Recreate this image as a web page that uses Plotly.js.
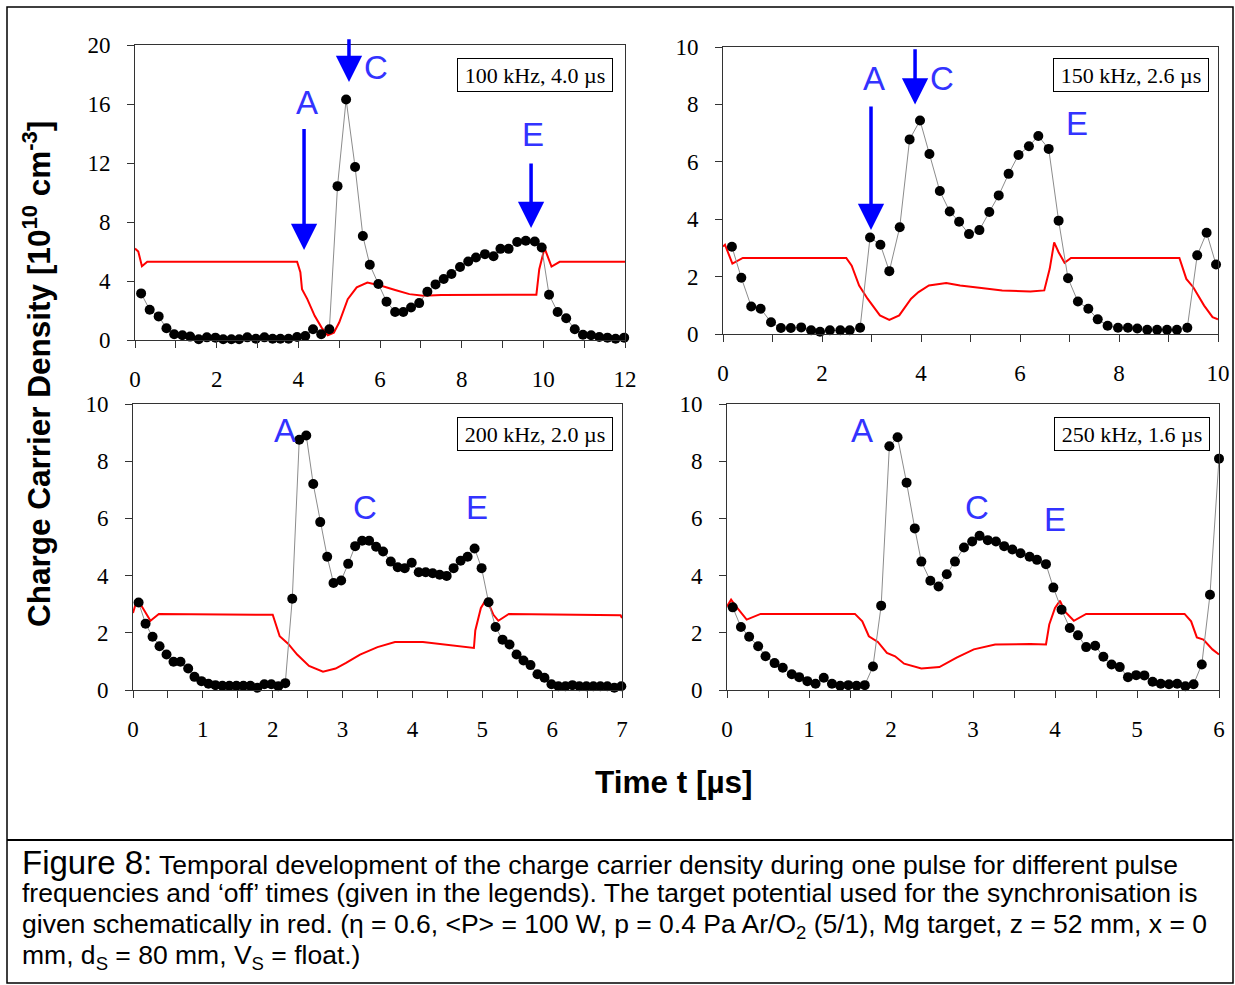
<!DOCTYPE html>
<html><head><meta charset="utf-8">
<script src="https://cdn.plot.ly/plotly-3.0.1.min.js"></script>
<style>body{margin:0;background:#fff}#chart{width:1235px;height:985px}</style>
</head><body><div id="chart"></div>
<script>
// ---------- DATA ----------
// Panel 1: 100 kHz, 4.0 µs
const t100 = [0.15,0.36,0.58,0.77,0.96,1.16,1.35,1.56,1.76,1.97,2.16,2.36,2.55,2.75,2.96,3.17,3.37,3.56,3.76,3.97,4.17,4.36,4.56,4.76,4.96,5.17,5.39,5.58,5.75,5.96,6.16,6.37,6.57,6.76,6.96,7.16,7.36,7.56,7.75,7.96,8.16,8.35,8.57,8.78,8.95,9.15,9.36,9.57,9.79,9.96,10.14,10.35,10.56,10.77,10.97,11.17,11.37,11.57,11.77,11.98];
const n100 = [3.16,2.05,1.6,0.8,0.39,0.32,0.23,0.05,0.18,0.16,0.05,0.05,0.05,0.18,0.09,0.18,0.09,0.09,0.09,0.2,0.27,0.73,0.39,0.73,10.43,16.3,11.73,7.05,5.1,3.8,2.6,1.9,1.9,2.2,2.5,3.27,3.77,4.14,4.48,4.95,5.32,5.59,5.82,5.68,6.18,6.18,6.64,6.73,6.68,6.27,3.07,1.9,1.48,0.73,0.36,0.32,0.2,0.16,0.09,0.16];
const tPot100 = [0,0.08,0.17,0.3,0.5,3.97,4.05,4.09,4.22,4.4,4.57,4.72,4.87,5.0,5.21,5.43,5.69,6.03,6.37,6.72,7.06,7.5,9.83,9.9,10.03,10.12,10.2,10.4,12];
const vPot100 = [6.2,6.0,5.0,5.3,5.3,5.3,4.6,3.45,2.77,1.64,0.84,0.32,0.5,1.18,2.77,3.57,3.9,3.68,3.39,3.11,3.0,3.05,3.07,4.8,6.23,5.6,4.98,5.3,5.3];

// Panel 2: 150 kHz, 2.6 µs
const t150 = [0.18,0.37,0.57,0.76,0.97,1.17,1.37,1.58,1.78,1.96,2.16,2.37,2.56,2.77,2.97,3.18,3.36,3.57,3.77,3.98,4.17,4.38,4.58,4.77,4.97,5.18,5.38,5.57,5.77,5.97,6.18,6.37,6.58,6.78,6.97,7.17,7.38,7.57,7.77,7.98,8.18,8.37,8.57,8.77,8.97,9.17,9.38,9.58,9.77,9.96];
const n150 = [3.04,1.96,0.96,0.88,0.41,0.21,0.21,0.23,0.13,0.08,0.13,0.13,0.13,0.22,3.36,3.11,2.19,3.72,6.78,7.44,6.27,4.98,4.27,3.91,3.48,3.62,4.25,4.83,5.58,6.24,6.54,6.9,6.45,3.95,1.94,1.13,0.88,0.51,0.29,0.22,0.22,0.19,0.15,0.15,0.15,0.15,0.22,2.74,3.53,2.42];
const tPot150 = [0,0.04,0.19,0.4,2.49,2.6,2.75,2.92,3.17,3.36,3.56,3.8,3.95,4.16,4.51,4.79,5.22,5.64,6.21,6.49,6.6,6.69,6.78,6.9,7.03,9.22,9.36,9.5,9.72,9.89,10];
const vPot150 = [3.05,3.11,2.45,2.65,2.65,2.38,1.69,1.23,0.65,0.49,0.65,1.23,1.46,1.69,1.78,1.69,1.6,1.52,1.48,1.52,2.27,3.19,2.85,2.48,2.65,2.65,1.92,1.63,0.99,0.59,0.51];

// Panel 3: 200 kHz, 2.0 µs
const t200 = [0.08,0.18,0.28,0.38,0.48,0.58,0.68,0.79,0.88,0.98,1.08,1.18,1.28,1.38,1.48,1.58,1.68,1.78,1.88,1.98,2.08,2.18,2.28,2.38,2.48,2.58,2.68,2.78,2.87,2.98,3.08,3.18,3.28,3.38,3.48,3.58,3.69,3.79,3.89,3.99,4.09,4.19,4.29,4.39,4.49,4.59,4.69,4.79,4.89,4.99,5.09,5.19,5.29,5.39,5.49,5.59,5.69,5.79,5.89,5.99,6.09,6.19,6.29,6.39,6.49,6.59,6.69,6.79,6.89,6.99];
const n200 = [3.06,2.32,1.86,1.53,1.24,0.99,0.99,0.75,0.46,0.31,0.22,0.17,0.15,0.15,0.15,0.15,0.15,0.08,0.2,0.2,0.13,0.24,3.19,8.75,8.9,7.2,5.87,4.66,3.74,3.83,4.41,5.03,5.22,5.22,5.01,4.84,4.49,4.29,4.26,4.45,4.12,4.12,4.08,4.03,3.99,4.26,4.52,4.66,4.95,4.26,3.07,2.2,1.76,1.59,1.24,1.03,0.87,0.55,0.43,0.2,0.13,0.13,0.17,0.13,0.13,0.13,0.13,0.13,0.08,0.13];
const tPot200 = [0,0.06,0.14,0.25,0.37,2.0,2.1,2.22,2.35,2.52,2.72,2.9,3.05,3.25,3.5,3.75,4.15,4.5,4.88,4.9,4.98,5.06,5.16,5.23,5.38,6.98,7.0];
const vPot200 = [2.69,3.19,2.87,2.42,2.66,2.63,1.88,1.62,1.24,0.84,0.64,0.75,0.95,1.24,1.5,1.68,1.68,1.57,1.47,2.08,2.87,3.19,2.63,2.42,2.66,2.61,2.52];

// Panel 4: 250 kHz, 1.6 µs
const t250 = [0.07,0.17,0.27,0.38,0.47,0.58,0.68,0.79,0.88,0.98,1.08,1.18,1.28,1.38,1.48,1.58,1.68,1.78,1.88,1.98,2.08,2.19,2.29,2.37,2.48,2.58,2.68,2.78,2.89,2.99,3.08,3.18,3.28,3.38,3.48,3.58,3.69,3.78,3.89,3.98,4.08,4.18,4.28,4.38,4.49,4.59,4.69,4.79,4.89,4.99,5.09,5.19,5.29,5.39,5.49,5.59,5.69,5.79,5.89,6.0];
const n250 = [2.89,2.2,1.86,1.53,1.18,0.94,0.78,0.55,0.45,0.31,0.22,0.43,0.22,0.15,0.17,0.15,0.17,0.82,2.95,8.52,8.84,7.25,5.65,4.49,3.82,3.62,4.05,4.49,4.98,5.19,5.39,5.24,5.19,5.03,4.91,4.78,4.66,4.55,4.4,3.58,2.81,2.17,1.91,1.5,1.55,1.16,0.89,0.8,0.45,0.52,0.51,0.29,0.22,0.2,0.22,0.13,0.2,0.89,3.33,8.09];
const tPot250 = [0,0.05,0.11,0.24,0.41,1.56,1.65,1.73,1.84,1.95,2.05,2.16,2.37,2.59,2.8,3.01,3.27,3.7,3.89,3.93,4.0,4.06,4.12,4.23,4.38,5.58,5.66,5.73,5.81,5.92,6.0];
const vPot250 = [2.92,3.16,2.92,2.46,2.66,2.66,2.4,1.88,1.68,1.3,1.18,0.92,0.75,0.8,1.13,1.42,1.59,1.61,1.59,2.29,2.87,3.12,2.75,2.42,2.66,2.66,2.4,1.84,1.76,1.42,1.24];

// Legend labels
const legendLabels = ["100 kHz, 4.0 µs","150 kHz, 2.6 µs","200 kHz, 2.0 µs","250 kHz, 1.6 µs"];
// Arrows (x position, tip value, tail value) per panel
const arrows100 = [[4.14,6.1,14.4],[5.24,17.5,20.5],[9.7,7.6,12.07]];
const arrows150 = [[2.99,3.62,7.98],[3.88,8.0,9.97]];

// ---------- LAYOUT HELPERS ----------
const W=1235,H=985;
const px=v=>v/W, py=v=>1-v/H;
const panels=[
  {t:t100,n:n100,tp:tPot100,vp:vPot100,x:[135,625],y:[340,45],xr:[0,12],yr:[0,20],dx:2,mx:1,dy:4},
  {t:t150,n:n150,tp:tPot150,vp:vPot150,x:[723,1218],y:[334,47],xr:[0,10],yr:[0,10],dx:2,mx:1,dy:2},
  {t:t200,n:n200,tp:tPot200,vp:vPot200,x:[133,622],y:[690,404],xr:[0,7],yr:[0,10],dx:1,mx:0.5,dy:2},
  {t:t250,n:n250,tp:tPot250,vp:vPot250,x:[727,1219],y:[690,404],xr:[0,6],yr:[0,10],dx:1,mx:0.5,dy:2}
];
const tickFont={family:"Liberation Serif, Times New Roman, serif",size:23,color:"#000"};
const traces=[],layout={width:W,height:H,margin:{l:0,r:0,t:0,b:0},paper_bgcolor:"#fff",plot_bgcolor:"#fff",showlegend:false,annotations:[],shapes:[]};
panels.forEach((p,i)=>{
  const k=i===0?"":String(i+1);
  const xa="x"+k, ya="y"+k;
  traces.push({x:p.tp,y:p.vp,xaxis:xa,yaxis:ya,type:"scatter",mode:"lines",line:{color:"#ff0000",width:2},cliponaxis:false,hoverinfo:"skip"});
  traces.push({x:p.t,y:p.n,xaxis:xa,yaxis:ya,type:"scatter",mode:"lines+markers",line:{color:"#8c8c8c",width:1},marker:{color:"#000",size:10},cliponaxis:false});
  const common={showgrid:false,zeroline:false,showline:true,linecolor:"#333",linewidth:1,mirror:true,ticks:"outside",ticklen:7,tickcolor:"#333",tickfont:tickFont,fixedrange:true};
  layout["xaxis"+k]=Object.assign({},common,{domain:[px(p.x[0]),px(p.x[1])],range:p.xr,dtick:p.dx,tick0:0,anchor:ya,ticklabelstandoff:11,minor:{dtick:p.mx,ticks:"outside",ticklen:7,tickcolor:"#333"}});
  layout["yaxis"+k]=Object.assign({},common,{domain:[py(p.y[0]),py(p.y[1])],range:p.yr,dtick:p.dy,tick0:0,anchor:xa,ticklabelstandoff:12});
});
// legend boxes
const boxes=[[535,75],[1131,75],[535,434],[1132,434]];
boxes.forEach((b,i)=>layout.annotations.push({xref:"paper",yref:"paper",x:px(b[0]),y:py(b[1]),xanchor:"center",yanchor:"middle",text:legendLabels[i],showarrow:false,font:{family:"Liberation Serif, Times New Roman, serif",size:22,color:"#000"},bordercolor:"#000",borderwidth:1,borderpad:2,bgcolor:"#fff",width:150,height:28}));
// letter labels
const letterFont={family:"Liberation Sans, Arial, sans-serif",size:33,color:"#3333ff"};
[["A",307,102],["C",376,67],["E",533,135],["A",874,78],["C",942,78],["E",1077,123],["A",285,430],["C",365,508],["E",477,508],["A",862,430],["C",977,508],["E",1055,519]]
 .forEach(l=>layout.annotations.push({xref:"paper",yref:"paper",x:px(l[1]),y:py(l[2]),text:l[0],showarrow:false,font:letterFont,xanchor:"center",yanchor:"middle"}));
// arrows
function addArrows(list,xa,ya){list.forEach(a=>layout.annotations.push({xref:xa,yref:ya,axref:xa,ayref:ya,x:a[0],y:a[1],ax:a[0],ay:a[2],text:"",showarrow:true,arrowhead:2,arrowsize:1.5,arrowwidth:3.5,arrowcolor:"#0000ff",standoff:0}));}
addArrows(arrows100,"x","y");
addArrows(arrows150,"x2","y2");
// axis titles
layout.annotations.push({xref:"paper",yref:"paper",x:px(37),y:py(374),xanchor:"center",yanchor:"middle",textangle:-90,showarrow:false,text:"Charge Carrier Density [10<sup>10</sup> cm<sup>-3</sup>]",font:{family:"Liberation Sans, Arial, sans-serif",size:31.5,color:"#000",weight:"bold"}});
layout.annotations.push({xref:"paper",yref:"paper",x:px(674),y:py(782),xanchor:"center",yanchor:"middle",showarrow:false,text:"Time t [µs]",font:{family:"Liberation Sans, Arial, sans-serif",size:31.5,color:"#000",weight:"bold"}});
// caption
const capFont={family:"Liberation Sans, Arial, sans-serif",size:26.5,color:"#000"};
const capLines=[
 '<span style="font-size:33px">Figure 8:</span> Temporal development of the charge carrier density during one pulse for different pulse',
 'frequencies and ‘off’ times (given in the legends). The target potential used for the synchronisation is',
 'given schematically in red. (η = 0.6, &lt;P&gt; = 100 W, p = 0.4 Pa Ar/O<sub>2</sub> (5/1), Mg target, z = 52 mm, x = 0',
 'mm, d<sub>S</sub> = 80 mm, V<sub>S</sub> = float.)'];
[862,893,926,957].forEach((y,i)=>layout.annotations.push({xref:"paper",yref:"paper",x:px(20),y:py(y),xanchor:"left",yanchor:"middle",showarrow:false,text:capLines[i],font:capFont}));
// frame
layout.shapes.push({type:"rect",xref:"paper",yref:"paper",x0:px(7),x1:px(1233),y0:py(983),y1:py(7),line:{color:"#000",width:1.5}});
layout.shapes.push({type:"line",xref:"paper",yref:"paper",x0:px(7),x1:px(1233),y0:py(840),y1:py(840),line:{color:"#000",width:2}});
Plotly.newPlot("chart",traces,layout,{staticPlot:true,displayModeBar:false});
</script></body></html>
